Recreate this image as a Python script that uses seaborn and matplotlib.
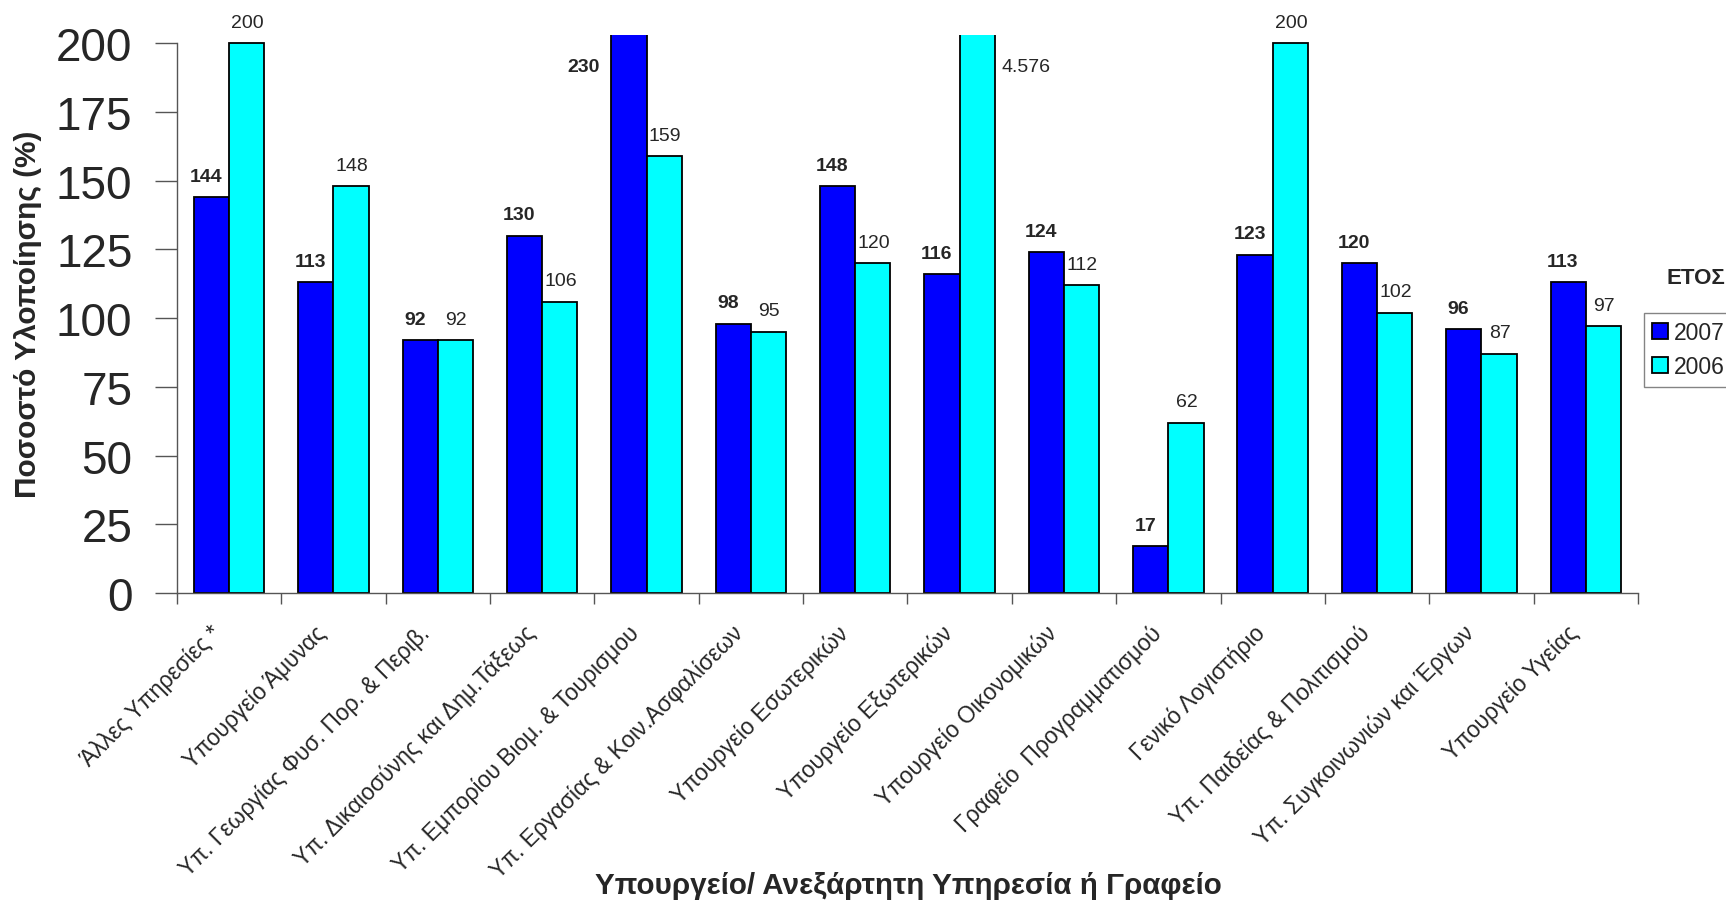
import numpy as np
import pandas as pd
import matplotlib
matplotlib.use('Agg')
import matplotlib.pyplot as plt
import matplotlib.transforms as mtransforms
from matplotlib.patches import Patch
import seaborn as sns

# ── data ──────────────────────────────────────────────────────
categories = [
    'Άλλες Υπηρεσίες *',
    'Υπουργείο Άμυνας',
    'Υπ. Γεωργίας Φυσ. Πορ. & Περιβ.',
    'Υπ. Δικαιοσύνης και Δημ.Τάξεως',
    'Υπ. Εμπορίου Βιομ. & Τουρισμου',
    'Υπ. Εργασίας & Κοιν.Ασφαλίσεων',
    'Υπουργείο Εσωτερικών',
    'Υπουργείο Εξωτερικών',
    'Υπουργείο Οικονομικών',
    'Γραφείο  Προγραμματισμού',
    'Γενικό Λογιστήριο',
    'Υπ. Παιδείας & Πολιτισμού',
    'Υπ. Συγκοινωνιών και Έργων',
    'Υπουργείο Υγείας',
]
values_2007 = [144, 113, 92, 130, 230, 98, 148, 116, 124, 17, 123, 120, 96, 113]
values_2006 = [200, 148, 92, 106, 159, 95, 120, 4576, 112, 62, 200, 102, 87, 97]
years = ['2007', '2006']
colors = {'2007': '#0000FF', '2006': '#00FFFF'}
y_ticks = [0, 25, 50, 75, 100, 125, 150, 175, 200]

df = pd.DataFrame({
    'category': categories * 2,
    'year': ['2007'] * len(categories) + ['2006'] * len(categories),
    'value': values_2007 + values_2006,
})

# ── style ─────────────────────────────────────────────────────
sns.set_style('ticks')
plt.rcParams['font.family'] = ['Liberation Sans', 'DejaVu Sans']

fig = plt.figure(figsize=(17.26, 9.04), dpi=100)
ax = fig.add_axes([0.1025, 0.343, 0.8465, 0.617])

sns.barplot(data=df, x='category', y='value', hue='year', hue_order=years,
            palette=colors, width=0.675, edgecolor='black', linewidth=1.3,
            saturation=1, legend=False, ax=ax)

YMAX = 203
ax.set_ylim(0, YMAX)
ax.set_xlim(-0.5, len(categories) - 0.5)

# ── value labels ──────────────────────────────────────────────
def fmt(v):
    return f'{v:,}'.replace(',', '.')

for cont, year in zip(ax.containers, years):
    bold = year == '2007'
    for bar in cont:
        v = int(round(bar.get_height()))
        x0, w = bar.get_x(), bar.get_width()
        if v > YMAX:
            # bar runs off the top: put the label beside it
            if bold:
                ax.annotate(fmt(v), (x0, 191.6), xytext=(-8, 0),
                            textcoords='offset points', ha='right', va='center',
                            fontsize=14, fontweight='bold')
            else:
                ax.annotate(fmt(v), (x0 + w, 191.6), xytext=(5, 0),
                            textcoords='offset points', ha='left', va='center',
                            fontsize=14)
        else:
            dx = -4 if bold else 0.5
            ax.annotate(fmt(v), (x0 + w / 2, v), xytext=(dx, 9),
                        textcoords='offset points', ha='center', va='bottom',
                        fontsize=14, fontweight='bold' if bold else 'normal')

# ── axes ──────────────────────────────────────────────────────
for s in ['top', 'right']:
    ax.spines[s].set_visible(False)
for s in ['left', 'bottom']:
    ax.spines[s].set_color('#555555')
    ax.spines[s].set_linewidth(1.0)
ax.spines['left'].set_bounds(0, 200)

ax.set_yticks(y_ticks)
ax.set_yticklabels([str(t) for t in y_ticks], fontsize=33)
ax.tick_params(axis='y', length=16, width=1, color='#555555', pad=16)

ax.set_xticks(np.arange(-0.5, len(categories), 1))
ax.set_xticklabels([])
ax.tick_params(axis='x', which='major', length=8, width=1, color='#555555')
ax.set_xticks(np.arange(len(categories)), minor=True)
ax.set_xticklabels(categories, minor=True, rotation=45, ha='right',
                   rotation_mode='anchor', fontsize=16.5)
ax.tick_params(axis='x', which='minor', length=0, pad=20)
shift = mtransforms.ScaledTranslation(-0.19, 0, fig.dpi_scale_trans)
for lbl in ax.get_xticklabels(minor=True):
    lbl.set_transform(lbl.get_transform() + shift)

ax.set_xlabel('')
ax.set_ylabel('')
fig.text(28 / 1726, 1 - 314 / 904, 'Ποσοστό Υλοποίησης (%)', rotation=90,
         ha='center', va='center', fontsize=21.5, fontweight='bold')
fig.text(908 / 1726, 1 - 886 / 904, 'Υπουργείο/ Ανεξάρτητη Υπηρεσία ή Γραφείο',
         ha='center', va='center', fontsize=21.3, fontweight='bold')

# ── legend ────────────────────────────────────────────────────
fig.text(1666 / 1726, 1 - 278 / 904, 'ΕΤΟΣ', ha='left', va='center',
         fontsize=16, fontweight='bold')
handles = [Patch(facecolor=colors[y], edgecolor='black', linewidth=1.3) for y in years]
leg = fig.legend(handles, years, loc='upper left',
                 bbox_to_anchor=(1644 / 1726, 1 - 314 / 904),
                 frameon=True, fancybox=False, fontsize=16.5,
                 handlelength=0.7, handleheight=0.7, handletextpad=0.25,
                 borderpad=0.35, labelspacing=0.5, borderaxespad=0)
leg.get_frame().set_edgecolor('#666666')
leg.get_frame().set_linewidth(1.0)

fig.savefig('out.png', dpi=100)
plt.close(fig)
